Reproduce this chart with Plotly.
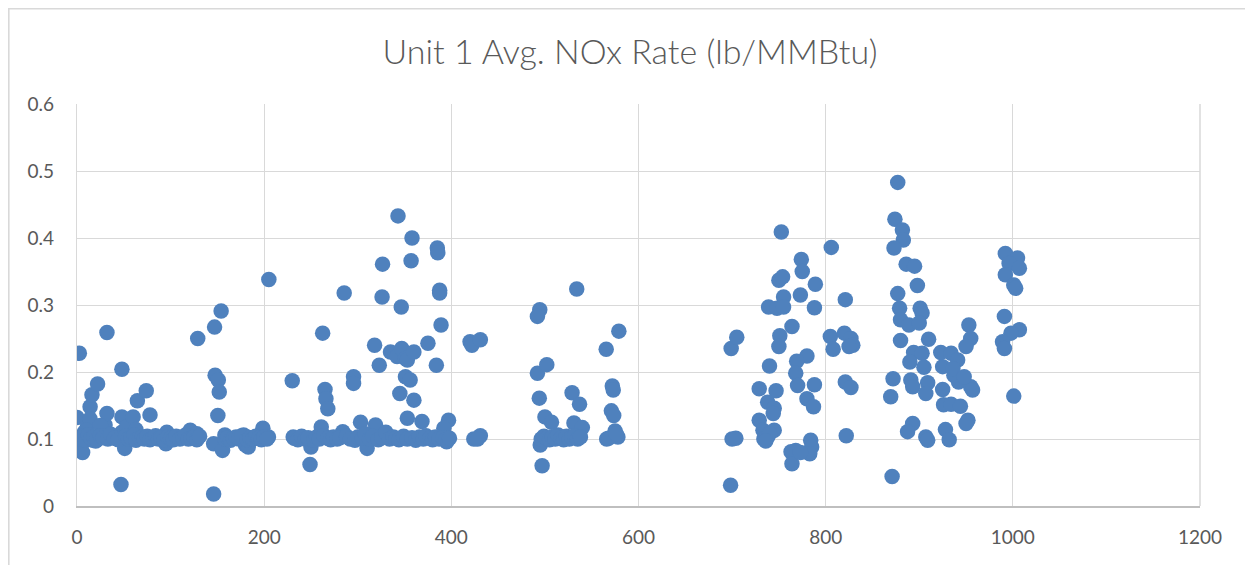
import plotly.graph_objects as go

# ---- data (hour index, NOx rate lb/MMBtu) ----
hours_a = [0, 2.5, 5, 6, 3, 11, 14, 14, 16, 22, 17, 20, 30, 32, 30, 32, 48, 47, 51, 48, 48, 53, 60, 63,
           64.5, 66, 74, 78, 95, 96, 121, 128, 129, 147, 154, 147.6, 151, 152, 150.5, 146, 155.5, 146,
           158, 178, 180, 183, 198.6, 205, 204.6, 181.5, 8, 10, 25]
nox_a = [0.132, 0.228, 0.082, 0.080, 0.103, 0.118, 0.148, 0.130, 0.166, 0.182, 0.098, 0.097, 0.121, 0.138,
         0.103, 0.259, 0.204, 0.032, 0.086, 0.133, 0.110, 0.118, 0.133, 0.114, 0.157, 0.102, 0.172, 0.136,
         0.093, 0.110, 0.113, 0.108, 0.250, 0.267, 0.291, 0.195, 0.188, 0.170, 0.135, 0.093, 0.083, 0.018,
         0.106, 0.106, 0.091, 0.088, 0.116, 0.338, 0.103, 0.103, 0.110, 0.113, 0.120]

hours_a_base = [4, 7, 9, 12, 15, 18, 21, 25, 28, 33, 36, 40, 44, 52, 55, 58, 61, 63, 67, 70, 72, 75, 78,
                81, 84, 87, 90, 93, 97, 100, 103, 106, 110, 113, 116, 119, 122, 125, 128, 131, 158, 161,
                164, 167, 170, 173, 176, 182, 185, 188, 191, 194, 197, 200, 203]
nox_a_base = [0.100, 0.104, 0.098, 0.106, 0.101, 0.103, 0.099, 0.105, 0.102, 0.100, 0.107, 0.101, 0.099,
              0.104, 0.100, 0.102, 0.106, 0.098, 0.101, 0.103, 0.100, 0.104, 0.099, 0.101, 0.105, 0.100,
              0.102, 0.098, 0.103, 0.101, 0.099, 0.104, 0.100, 0.102, 0.106, 0.100, 0.101, 0.103, 0.099,
              0.104, 0.100, 0.102, 0.098, 0.101, 0.103, 0.100, 0.105, 0.099, 0.102, 0.100, 0.104, 0.101,
              0.099, 0.103, 0.100]

hours_b = [230, 231, 249, 250, 262.5, 261, 265, 266, 268, 285.5, 295.5, 295.5, 284, 303, 310, 319, 326,
           326.5, 318, 323, 343, 346.5, 335, 342, 347, 351, 353, 360, 351, 356, 345, 360, 353, 358, 357,
           375, 384, 385, 385.5, 387.5, 387.5, 389, 368.6, 397, 392, 395, 420, 422, 431, 424, 431, 428]
nox_b = [0.187, 0.103, 0.062, 0.088, 0.258, 0.118, 0.174, 0.160, 0.145, 0.318, 0.193, 0.183, 0.111, 0.125,
         0.086, 0.121, 0.312, 0.361, 0.240, 0.210, 0.433, 0.297, 0.230, 0.223, 0.235, 0.220, 0.218, 0.230,
         0.193, 0.188, 0.168, 0.158, 0.131, 0.400, 0.366, 0.243, 0.210, 0.385, 0.378, 0.322, 0.318, 0.270,
         0.126, 0.128, 0.116, 0.096, 0.245, 0.240, 0.248, 0.100, 0.105, 0.100]

hours_b_base = [232, 236, 240, 244, 247, 253, 256, 259, 264, 268, 271, 274, 278, 281, 288, 292, 297, 300,
                305, 308, 313, 316, 322, 326, 330, 334, 338, 341, 344, 349, 353, 358, 362, 366, 370, 373,
                377, 380, 383, 387, 391, 394, 398]
nox_b_base = [0.101, 0.099, 0.104, 0.100, 0.102, 0.098, 0.103, 0.100, 0.105, 0.101, 0.099, 0.103, 0.100,
              0.102, 0.104, 0.100, 0.098, 0.103, 0.101, 0.108, 0.100, 0.104, 0.099, 0.102, 0.110, 0.100,
              0.103, 0.101, 0.099, 0.104, 0.100, 0.102, 0.098, 0.103, 0.100, 0.105, 0.101, 0.099, 0.103,
              0.100, 0.102, 0.099, 0.101]

hours_c = [494.5, 492, 534, 492, 502, 494, 529, 537, 500, 507, 531, 497, 495, 540, 579, 565.5, 572, 573,
           571, 573.5, 575, 566, 568, 578, 576]
nox_c = [0.293, 0.283, 0.324, 0.198, 0.211, 0.161, 0.169, 0.152, 0.133, 0.125, 0.124, 0.060, 0.091, 0.117,
         0.261, 0.234, 0.179, 0.173, 0.142, 0.135, 0.112, 0.100, 0.101, 0.103, 0.108]

hours_c_base = [496, 499, 502, 505, 508, 511, 514, 517, 520, 523, 526, 529, 532, 535, 538]
nox_c_base = [0.100, 0.104, 0.101, 0.099, 0.103, 0.100, 0.106, 0.101, 0.099, 0.104, 0.100, 0.102, 0.105,
              0.100, 0.103]

hours_d = [698.4, 700, 704, 699, 705, 752.6, 806, 774, 775, 750, 754, 789, 773, 755, 821, 739, 748, 755,
           788, 764, 751, 750, 805, 808, 820, 827, 829, 825, 740, 780, 769, 768, 770, 788, 729, 747, 780,
           787, 821, 827, 738, 745, 744, 729, 733, 738, 745, 734, 740, 736, 822, 768, 763, 764, 784, 785,
           783, 773]
nox_d = [0.031, 0.100, 0.101, 0.235, 0.252, 0.409, 0.386, 0.368, 0.350, 0.337, 0.342, 0.331, 0.315, 0.312,
         0.308, 0.297, 0.295, 0.297, 0.296, 0.268, 0.254, 0.238, 0.253, 0.234, 0.258, 0.250, 0.240, 0.238,
         0.209, 0.224, 0.216, 0.198, 0.180, 0.181, 0.175, 0.172, 0.160, 0.148, 0.185, 0.177, 0.155, 0.146,
         0.138, 0.128, 0.113, 0.103, 0.113, 0.100, 0.108, 0.097, 0.105, 0.083, 0.081, 0.063, 0.098, 0.088,
         0.078, 0.080]

hours_e = [877, 874, 882, 883, 873, 886, 895, 898, 877, 879, 901, 903, 880, 889, 900, 880, 910, 894, 903,
           890, 905, 872, 891, 893, 909, 907, 869.5, 925, 926, 934, 944, 952, 950, 893, 887.5, 907, 909,
           928, 932, 871, 923, 934, 941, 953, 955, 950, 925, 937, 942, 955, 957, 936, 948, 992, 1005, 996,
           1007, 992, 1001, 1003, 991, 1007, 998, 989, 991, 1001]
nox_e = [0.483, 0.428, 0.412, 0.397, 0.385, 0.361, 0.358, 0.329, 0.317, 0.295, 0.295, 0.288, 0.278, 0.270,
         0.273, 0.247, 0.249, 0.229, 0.228, 0.215, 0.207, 0.190, 0.188, 0.178, 0.184, 0.168, 0.163, 0.174,
         0.151, 0.152, 0.149, 0.128, 0.123, 0.123, 0.111, 0.103, 0.098, 0.114, 0.099, 0.044, 0.229, 0.228,
         0.218, 0.270, 0.250, 0.238, 0.208, 0.195, 0.185, 0.178, 0.173, 0.205, 0.193, 0.377, 0.370, 0.362,
         0.355, 0.345, 0.330, 0.325, 0.283, 0.263, 0.258, 0.245, 0.235, 0.164]

x_ticks = [0, 200, 400, 600, 800, 1000, 1200]
y_ticks = [0, 0.1, 0.2, 0.3, 0.4, 0.5, 0.6]
y_tick_text = ["0", "0.1", "0.2", "0.3", "0.4", "0.5", "0.6"]
chart_title = "Unit 1 Avg. NOx Rate (lb/MMBtu)"

hours = hours_a + hours_a_base + hours_b + hours_b_base + hours_c + hours_c_base + hours_d + hours_e
nox = nox_a + nox_a_base + nox_b + nox_b_base + nox_c + nox_c_base + nox_d + nox_e

FONT = "Lato, Calibri, Carlito, sans-serif"
GRAY = "#595959"

fig = go.Figure()
fig.add_trace(go.Scatter(
    x=hours, y=nox, mode="markers",
    marker=dict(size=15.5, color="#4f81bd", line=dict(width=0)),
    showlegend=False, hoverinfo="x+y",
))

# page body has an 8px default margin, so the figure is sized to fit the window
W, H = 1245, 557
L, R, T, B = 69, 53, 96, 59
pw, ph = W - L - R, H - T - B

def px_to_paper_x(px):
    return (px - L) / pw

def px_to_paper_y(py):
    return (H - B - py) / ph

fig.update_layout(
    width=W, height=H,
    margin=dict(l=L, r=R, t=T, b=B, pad=0),
    paper_bgcolor="white", plot_bgcolor="white",
    font=dict(family=FONT, color=GRAY, size=19),
    title=dict(text=chart_title, x=622 / W, xref="container", xanchor="center",
               y=1 - 44 / H, yref="container", yanchor="middle",
               font=dict(family=FONT, size=34, color=GRAY, weight=300)),
    xaxis=dict(range=[0, 1200], tickvals=x_ticks, showgrid=True, gridcolor="#d9d9d9", gridwidth=1.3,
               zeroline=False, showline=True, linecolor="#bfbfbf", linewidth=1.5,
               ticks="", ticklabelstandoff=13, tickfont=dict(size=19, color=GRAY, family=FONT),
               fixedrange=True),
    yaxis=dict(range=[0, 0.6], tickvals=y_ticks, ticktext=y_tick_text, showgrid=True,
               gridcolor="#d9d9d9", gridwidth=1.3, zeroline=False, showline=True,
               linecolor="#d9d9d9", linewidth=1.3, ticks="", ticklabelstandoff=18,
               tickfont=dict(size=19, color=GRAY, family=FONT), fixedrange=True),
    shapes=[
        # outer chart-area border (partially cropped in the reference)
        dict(type="rect", xref="paper", yref="paper",
             x0=px_to_paper_x(0.8), x1=px_to_paper_x(W + 20),
             y0=px_to_paper_y(H + 20), y1=px_to_paper_y(0.8),
             line=dict(color="#d9d9d9", width=1.6), fillcolor="rgba(0,0,0,0)", layer="below"),
        # right border of plot area
        dict(type="line", xref="paper", yref="paper", x0=1, x1=1, y0=0, y1=1,
             line=dict(color="#d9d9d9", width=1.5)),
    ],
)

fig.write_html("out.html")
